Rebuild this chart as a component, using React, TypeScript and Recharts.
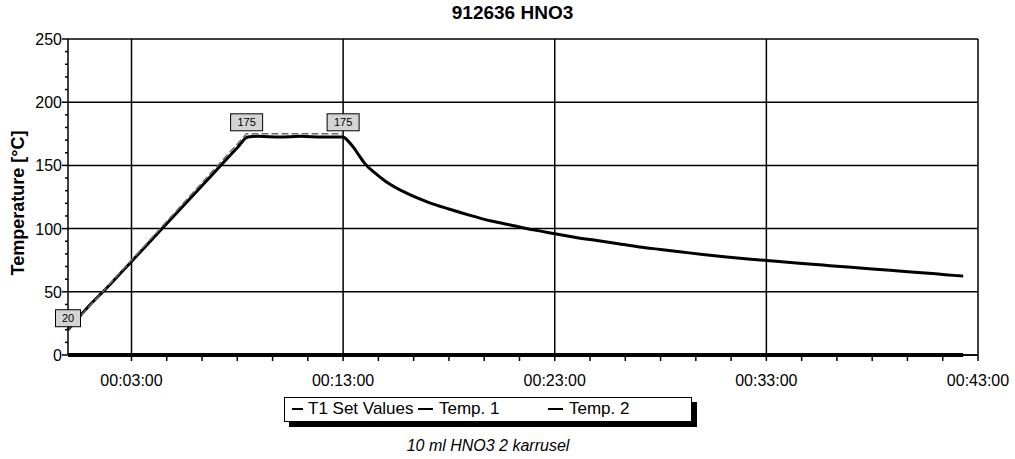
import { LineChart, Line, XAxis, YAxis, CartesianGrid, Legend, LabelList } from 'recharts'

// time in minutes, temperature in °C
const setTimes = [0, 8.44, 13]
const setValues = [20, 175, 175]

const temp1Times = [
  0, 1, 2, 3, 4, 5, 6, 7, 8, 8.5, 9, 10, 11, 12, 13, 13.25, 13.5, 13.75, 14, 14.5, 15, 16, 17, 18, 19, 20,
  21, 22, 23, 24, 25, 26, 27, 28, 29, 30, 31, 32, 33, 34, 35, 36, 37, 38, 39, 40, 41, 42, 42.3,
]
const temp1Values = [
  20, 39, 56, 74, 92, 110, 128, 146, 164, 172.5, 173, 172.5, 173, 172.5, 172.5, 169, 164, 158, 152, 144,
  137.5, 128, 121, 115.5, 110.5, 106, 102.5, 99, 96, 93, 90.5, 88, 85.5, 83.5, 81.5, 79.5, 77.8, 76.2,
  74.8, 73.4, 72, 70.7, 69.4, 68.1, 66.8, 65.5, 64.2, 62.8, 62.4,
]

const temp2Times = [0, 42.3]
const temp2Values = [0, 0]

const seriesNames = ['T1 Set Values', 'Temp. 1', 'Temp. 2']
const majorTicks = [3, 13, 23, 33, 43]
const yTicks = [0, 50, 100, 150, 200, 250]

const setData = setTimes.map((t, i) => ({ t, v: setValues[i] }))
const temp1Data = temp1Times.map((t, i) => ({ t, v: temp1Values[i] }))
const temp2Data = temp2Times.map((t, i) => ({ t, v: temp2Values[i] }))

// 5 minor ticks between each pair of labelled ticks
const xTicks: number[] = []
majorTicks.forEach((m, i) => {
  xTicks.push(m)
  if (i < majorTicks.length - 1) {
    for (let k = 1; k < 6; k++) xTicks.push(m + (k * 10) / 6)
  }
})
const yAllTicks: number[] = []
for (let v = 0; v <= 250; v += 10) yAllTicks.push(v)

const FONT = '"Liberation Sans", Arial, sans-serif'

const fmtTime = (m: number) => `00:${String(Math.round(m)).padStart(2, '0')}:00`

function XTick(props: any) {
  const { x, y, payload } = props
  const major = majorTicks.includes(payload.value)
  return (
    <g>
      <line x1={x} x2={x} y1={y} y2={y + 6} stroke="#000" strokeWidth={1.5} />
      {major && (
        <text x={x} y={y + 31} textAnchor="middle" fontSize={16} fontFamily={FONT} fill="#000">
          {fmtTime(payload.value)}
        </text>
      )}
    </g>
  )
}

function YTick(props: any) {
  const { x, y, payload } = props
  const major = payload.value % 50 === 0
  return (
    <g>
      <line x1={major ? x - 6 : x - 3} x2={x} y1={y} y2={y} stroke="#000" strokeWidth={1.5} />
      {major && (
        <text x={x - 6} y={y} dy={6} textAnchor="end" fontSize={16} fontFamily={FONT} fill="#000">
          {payload.value}
        </text>
      )}
    </g>
  )
}

function PointBox(props: any) {
  const { x, y, value } = props
  const w = String(value).length > 2 ? 32 : 25
  const h = 17
  return (
    <g>
      <rect x={x - w / 2} y={y - h - 3} width={w} height={h} fill="#d4d4d4" stroke="#000" strokeWidth={1} />
      <text x={x} y={y - 3 - h / 2 + 4} textAnchor="middle" fontSize={11} fontFamily={FONT} fill="#000">
        {value}
      </text>
    </g>
  )
}

const legendOffsets = [7, 133, 263]

function LegendBox(props: any) {
  const items = seriesNames.filter((n) => props.payload.some((p: any) => p.value === n))
  return (
    <div
      style={{
        position: 'relative',
        border: '1.5px solid #000',
        boxShadow: '5px 5px 0 #000',
        background: '#fff',
        height: 25,
        fontFamily: FONT,
        fontSize: 17,
        boxSizing: 'border-box',
      }}
    >
      {items.map((name, i) => (
        <span
          key={name}
          style={{
            position: 'absolute',
            left: legendOffsets[i],
            top: 0,
            height: 22,
            display: 'inline-flex',
            alignItems: 'center',
            whiteSpace: 'nowrap',
          }}
        >
          <span
            style={{
              display: 'inline-block',
              width: i === 0 ? 11 : 15,
              height: i === 0 ? 1.5 : 2.5,
              background: '#000',
              marginRight: i === 0 ? 5 : 6,
            }}
          />
          {name}
        </span>
      ))}
    </div>
  )
}

export default function App() {
  return (
    <div style={{ position: 'absolute', left: 0, top: 0, width: 1015, height: 459, background: '#fff' }}>
      <div
        style={{
          position: 'absolute',
          left: 0,
          width: 1015,
          top: 2,
          textAlign: 'center',
          fontFamily: FONT,
          fontWeight: 'bold',
          fontSize: 19,
          paddingLeft: 5,
        }}
      >
        912636 HNO3
      </div>
      <div
        style={{
          position: 'absolute',
          left: 18,
          top: 203,
          transform: 'translate(-50%, -50%) rotate(-90deg)',
          whiteSpace: 'nowrap',
          fontFamily: FONT,
          fontWeight: 'bold',
          fontSize: 18,
        }}
      >
        Temperature [°C]
      </div>
      <LineChart
        width={1015}
        height={459}
        margin={{ top: 39, right: 37, left: 0, bottom: 54 }}
        style={{ position: 'absolute', left: 0, top: 0 }}
      >
        <CartesianGrid
          stroke="#000"
          strokeWidth={1.5}
          horizontalValues={yTicks}
          verticalValues={majorTicks}
        />
        <XAxis
          dataKey="t"
          type="number"
          domain={[0, 43]}
          ticks={xTicks}
          interval={0}
          height={50}
          tickSize={0}
          tickMargin={0}
          tickLine={false}
          tick={<XTick />}
          axisLine={{ stroke: '#000', strokeWidth: 1.5 }}
          allowDuplicatedCategory={false}
        />
        <YAxis
          type="number"
          domain={[0, 250]}
          ticks={yAllTicks}
          interval={0}
          width={68}
          tickSize={0}
          tickMargin={0}
          tickLine={false}
          tick={<YTick />}
          axisLine={{ stroke: '#000', strokeWidth: 1.5 }}
        />
        <Line
          data={temp2Data}
          dataKey="v"
          name="Temp. 2"
          stroke="#000"
          strokeWidth={4}
          dot={false}
          isAnimationActive={false}
          legendType="plainline"
        />
        <Line
          data={temp1Data}
          dataKey="v"
          name="Temp. 1"
          type="monotone"
          stroke="#000"
          strokeWidth={3}
          dot={false}
          isAnimationActive={false}
          legendType="plainline"
        />
        <Line
          data={setData}
          dataKey="v"
          name="T1 Set Values"
          stroke="#6a6a6a"
          strokeWidth={1.5}
          strokeDasharray="7 3"
          dot={false}
          isAnimationActive={false}
          legendType="plainline"
        >
          <LabelList dataKey="v" content={<PointBox />} />
        </Line>
        <Legend
          layout="horizontal"
          verticalAlign="middle"
          align="center"
          content={(p: any) => <LegendBox payload={p.payload} />}
          wrapperStyle={{ position: 'absolute', left: 284, top: 397, width: 408, height: 25 }}
        />
      </LineChart>
      <div
        style={{
          position: 'absolute',
          left: 0,
          width: 976,
          top: 437,
          textAlign: 'center',
          fontFamily: FONT,
          fontStyle: 'italic',
          fontSize: 16,
        }}
      >
        10 ml HNO3 2 karrusel
      </div>
    </div>
  )
}
